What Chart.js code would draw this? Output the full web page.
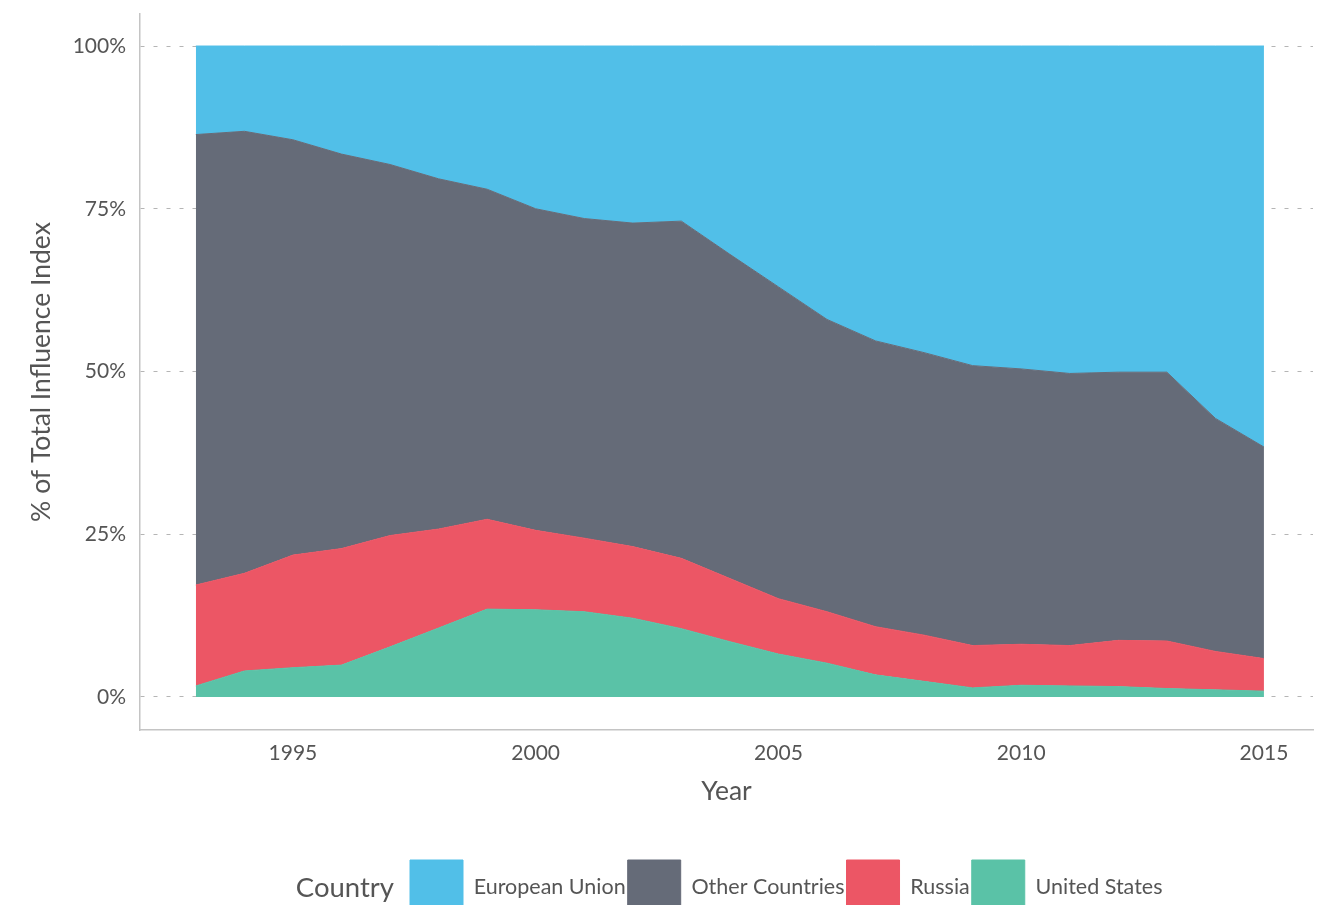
<!DOCTYPE html>
<html>
<head>
<meta charset="utf-8">
<script src="https://cdn.jsdelivr.net/npm/chart.js@4/dist/chart.umd.min.js"></script>
<style>
  html, body { margin: 0; padding: 0; background: #fff; overflow: hidden; }
  canvas { display: block; }
</style>
</head>
<body>
<canvas id="influenceChart" width="1323" height="905"></canvas>
<script>
// shares of the influence index, per year (each year sums to 100)
const years = [1993, 1994, 1995, 1996, 1997, 1998, 1999, 2000, 2001, 2002, 2003, 2004,
  2005, 2006, 2007, 2008, 2009, 2010, 2011, 2012, 2013, 2014, 2015];
const unitedStates = [1.7, 4.0, 4.5, 4.9, 7.7, 10.6, 13.5, 13.4, 13.1, 12.1, 10.5, 8.5,
  6.6, 5.2, 3.4, 2.4, 1.4, 1.8, 1.7, 1.6, 1.3, 1.1, 0.9];
const russia = [15.5, 15.0, 17.3, 17.9, 17.1, 15.2, 13.8, 12.2, 11.3, 11.0, 10.8, 9.7,
  8.5, 7.9, 7.4, 7.1, 6.5, 6.3, 6.2, 7.1, 7.3, 5.9, 5.0];
const otherCountries = [69.2, 67.9, 63.8, 60.6, 57.0, 53.8, 50.7, 49.4, 49.1, 49.7, 51.8, 49.8,
  47.9, 44.9, 43.9, 43.4, 43.0, 42.3, 41.8, 41.2, 41.3, 35.8, 32.5];
const europeanUnion = [13.6, 13.1, 14.4, 16.6, 18.2, 20.4, 22.0, 25.0, 26.5, 27.2, 26.9, 32.0,
  37.0, 42.0, 45.3, 47.1, 49.1, 49.6, 50.3, 50.1, 50.1, 57.2, 61.6];
const yTicks = [0, 25, 50, 75, 100];
const xTicks = [1995, 2000, 2005, 2010, 2015];

const textColor = '#555';
Chart.defaults.font.family = 'Lato, "Open Sans", sans-serif';
Chart.defaults.color = textColor;

function series(label, values, color, fill) {
  return {
    label: label,
    data: values.map((v, i) => ({ x: years[i], y: v })),
    backgroundColor: color,
    borderColor: color,
    borderWidth: 1,
    pointRadius: 0,
    tension: 0,
    fill: fill,
  };
}

// "Country" title to the left of the legend, and legend placement
const legendTweak = {
  id: 'legendTweak',
  afterLayout(chart) {
    const lg = chart.legend;
    const p = lg.options.labels.padding;
    const start = (lg.left + p + lg.right - lg.lineWidths[0]) / 2;
    const dx = 410 - start;
    lg.left += dx; lg.right += dx;
    lg.top += 19; lg.bottom += 19;
  },
  afterDraw(chart) {
    const ctx = chart.ctx;
    ctx.save();
    ctx.font = '27.5px Lato, "Open Sans", sans-serif';
    ctx.fillStyle = textColor;
    ctx.textAlign = 'right';
    ctx.textBaseline = 'middle';
    ctx.fillText('Country', 394, 888);
    ctx.restore();
  },
};

const ctx = document.getElementById('influenceChart').getContext('2d');
const influenceChart = new Chart(ctx, {
  type: 'line',
  data: {
    datasets: [
      series('United States', unitedStates, '#5AC2A7', 'origin'),
      series('Russia', russia, '#EC5665', '-1'),
      series('Other Countries', otherCountries, '#656B78', '-1'),
      series('European Union', europeanUnion, '#51BFE8', '-1'),
    ],
  },
  plugins: [legendTweak],
  options: {
    responsive: false,
    animation: false,
    devicePixelRatio: 1,
    layout: { padding: { top: 14, right: 10, left: 0, bottom: 0 } },
    plugins: {
      tooltip: { enabled: false },
      legend: {
        position: 'bottom',
        reverse: true,
        labels: {
          boxWidth: 53,
          boxHeight: 54,
          padding: 2,
          color: textColor,
          font: { size: 21.5 },
        },
      },
    },
    scales: {
      x: {
        type: 'linear',
        min: 1991.85,
        max: 2016.01,
        afterFit: (s) => { s.height = 109; },
        afterBuildTicks: (s) => { s.ticks = xTicks.map((v) => ({ value: v })); },
        grid: { display: false, drawTicks: false },
        border: { display: true, color: '#c4c4c4', width: 1.5 },
        ticks: {
          padding: 11,
          font: { size: 21 },
          callback: (v) => String(v),
        },
        title: {
          display: true,
          text: 'Year',
          font: { size: 26.5 },
          padding: { top: 0, bottom: 32 },
        },
      },
      y: {
        type: 'linear',
        stacked: true,
        min: -5.07,
        max: 104.92,
        afterFit: (s) => { s.width = 140; s.paddingTop = 0; s.paddingBottom = 0; },
        afterBuildTicks: (s) => { s.ticks = yTicks.map((v) => ({ value: v })); },
        grid: { color: '#b5b5b5', lineWidth: 1, drawTicks: false },
        border: { display: true, color: '#c4c4c4', width: 1.5, dash: [4, 9] },
        ticks: {
          padding: 14,
          font: { size: 21 },
          callback: (v) => v + '%',
        },
        title: {
          display: true,
          text: '% of Total Influence Index',
          font: { size: 26.5 },
          padding: { top: 26, bottom: 0 },
        },
      },
    },
  },
});
</script>
</body>
</html>
